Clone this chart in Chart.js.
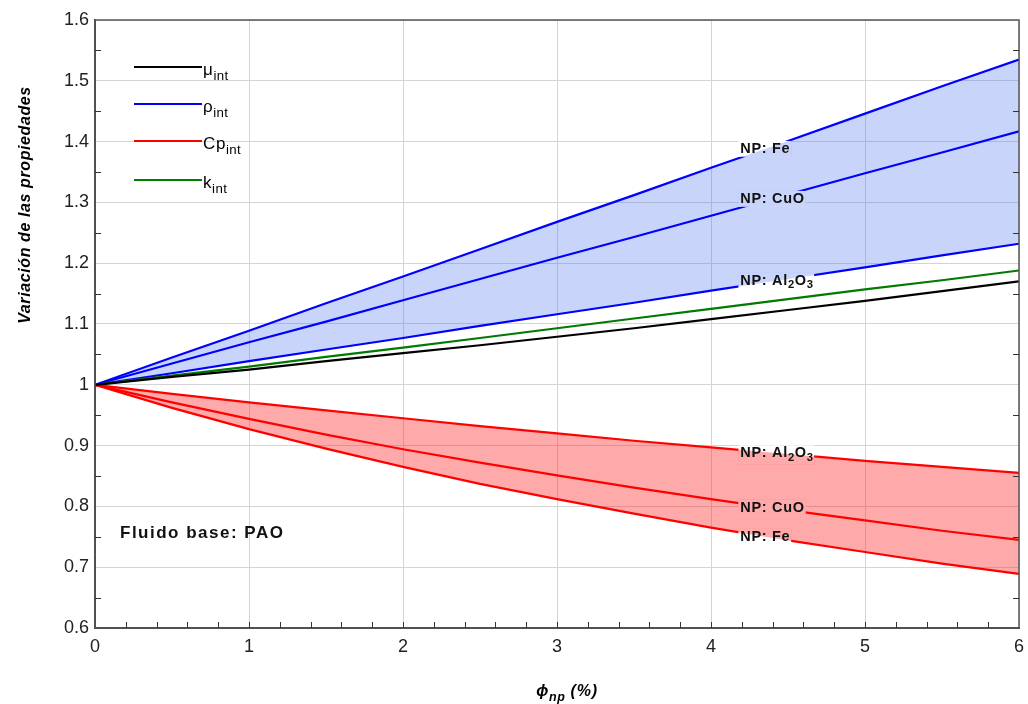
<!DOCTYPE html>
<html>
<head>
<meta charset="utf-8">
<script src="https://cdn.jsdelivr.net/npm/chart.js@4.4.1/dist/chart.umd.min.js"></script>
<style>
  html, body { margin: 0; padding: 0; background: #fff; }
  #wrap { width: 1028px; height: 704px; }
</style>
</head>
<body>
<div id="wrap"><canvas id="props" width="1028" height="704"></canvas></div>
<script>
// Volume fraction of nanoparticles (%)
const phiNp = [0, 0.5, 1, 1.5, 2, 2.5, 3, 3.5, 4, 4.5, 5, 5.5, 6];

// Viscosity and thermal conductivity ratios
const muInt = [1, 1.013, 1.025, 1.039, 1.052, 1.065, 1.079, 1.093, 1.108, 1.123, 1.138, 1.154, 1.170];
const kInt = [1, 1.015, 1.030, 1.046, 1.061, 1.077, 1.093, 1.109, 1.125, 1.141, 1.157, 1.172, 1.188];

// Density ratios per nanoparticle
const rhoAl2O3 = [1, 1.019, 1.039, 1.058, 1.077, 1.097, 1.116, 1.135, 1.155, 1.174, 1.193, 1.213, 1.232];
const rhoCuO = [1, 1.035, 1.070, 1.104, 1.139, 1.174, 1.209, 1.243, 1.278, 1.313, 1.348, 1.382, 1.417];
const rhoFe = [1, 1.045, 1.089, 1.134, 1.178, 1.223, 1.268, 1.312, 1.357, 1.401, 1.446, 1.491, 1.535];

// Specific heat ratios per nanoparticle
const cpAl2O3 = [1, 0.985, 0.971, 0.958, 0.945, 0.932, 0.920, 0.908, 0.897, 0.886, 0.875, 0.865, 0.855];
const cpCuO = [1, 0.971, 0.944, 0.918, 0.894, 0.872, 0.851, 0.831, 0.812, 0.794, 0.777, 0.760, 0.745];
const cpFe = [1, 0.962, 0.927, 0.895, 0.865, 0.837, 0.812, 0.788, 0.765, 0.744, 0.725, 0.706, 0.689];

// Legend entries: [symbol, subscript]
const legendItems = [['μ', 'int'], ['ρ', 'int'], ['Cp', 'int'], ['k', 'int']];
const legendColors = ['#000000', '#0000ff', '#ff0000', '#008000'];

// Nanoparticle names as rich text parts: [text, isSubscript]
const nameFe = [['NP: Fe', 0]];
const nameCuO = [['NP: CuO', 0]];
const nameAl2O3 = [['NP: Al', 0], ['2', 1], ['O', 0], ['3', 1]];

const baseFluid = 'Fluido base: PAO';
const yTitle = 'Variación de las propiedades';

const FONT = '"Liberation Sans", Arial, sans-serif';
const BLUE_FILL = 'rgba(72,112,238,0.3)';
const RED_FILL = 'rgba(255,42,42,0.4)';

function toPoints(arr) {
  return arr.map((v, i) => ({ x: phiNp[i], y: v }));
}

function valueAt(arr, x) {
  for (let i = 1; i < phiNp.length; i++) {
    if (x <= phiNp[i]) {
      const t = (x - phiNp[i - 1]) / (phiNp[i] - phiNp[i - 1]);
      return arr[i - 1] + t * (arr[i] - arr[i - 1]);
    }
  }
  return arr[arr.length - 1];
}

// draws text with subscripts, returns its width
function drawRich(ctx, parts, x, y, size, opts) {
  const weight = opts.weight || '';
  const spacing = opts.spacing || 0;
  let cx = x;
  parts.forEach(([t, sub]) => {
    const s = sub ? size * 0.78 : size;
    ctx.font = `${weight} ${s}px ${FONT}`;
    ctx.letterSpacing = (sub ? spacing * 0.6 : spacing) + 'px';
    if (!opts.measure) ctx.fillText(t, cx, sub ? y + size * 0.32 : y);
    cx += ctx.measureText(t).width;
  });
  ctx.letterSpacing = '0px';
  return cx - x;
}

const datasets = [
  { label: 'mu', data: toPoints(muInt), borderColor: '#000000' },
  { label: 'k', data: toPoints(kInt), borderColor: '#007a00' },
  { label: 'rho Al2O3', data: toPoints(rhoAl2O3), borderColor: '#0000ff' },
  { label: 'rho CuO', data: toPoints(rhoCuO), borderColor: '#0000ff' },
  { label: 'rho Fe', data: toPoints(rhoFe), borderColor: '#0000ff', fill: 2, backgroundColor: BLUE_FILL },
  { label: 'Cp Al2O3', data: toPoints(cpAl2O3), borderColor: '#ff0000', fill: 7, backgroundColor: RED_FILL },
  { label: 'Cp CuO', data: toPoints(cpCuO), borderColor: '#ff0000' },
  { label: 'Cp Fe', data: toPoints(cpFe), borderColor: '#ff0000' }
];
datasets.forEach(d => {
  d.borderWidth = 2.2;
  d.pointRadius = 0;
  d.tension = 0;
  if (d.fill === undefined) d.fill = false;
});

// NP labels sitting on the curves, they cut the line where they are drawn
const npLabels = [
  { parts: nameFe, series: rhoFe, band: [4, 2], color: BLUE_FILL },
  { parts: nameCuO, series: rhoCuO, band: [4, 2], color: BLUE_FILL },
  { parts: nameAl2O3, series: rhoAl2O3, band: [4, 2], color: BLUE_FILL },
  { parts: nameAl2O3, series: cpAl2O3, band: [5, 7], color: RED_FILL },
  { parts: nameCuO, series: cpCuO, band: [5, 7], color: RED_FILL },
  { parts: nameFe, series: cpFe, band: [5, 7], color: RED_FILL }
];

const decorations = {
  id: 'decorations',
  afterDatasetsDraw(chart) {
    const ctx = chart.ctx;
    const xs = chart.scales.x, ys = chart.scales.y;
    const left = xs.getPixelForValue(4.19);
    npLabels.forEach(lb => {
      const w = drawRich(ctx, lb.parts, 0, 0, 14.5, { weight: 'bold', spacing: 0.7, measure: true });
      const cx = left + w / 2;
      const cy = ys.getPixelForValue(valueAt(lb.series, xs.getValueForPixel(cx)));
      const hasSub = lb.parts.length > 1;
      ctx.save();
      ctx.beginPath();
      ctx.rect(left - 2, cy - 8, w + 3, hasSub ? 19 : 16);
      ctx.clip();
      ctx.fillStyle = '#ffffff';
      ctx.fillRect(left - 2, cy - 8, w + 3, 19);
      // band between the two outer curves
      const top = chart.getDatasetMeta(lb.band[0]).data;
      const bot = chart.getDatasetMeta(lb.band[1]).data;
      ctx.beginPath();
      top.forEach((p, i) => i ? ctx.lineTo(p.x, p.y) : ctx.moveTo(p.x, p.y));
      for (let i = bot.length - 1; i >= 0; i--) ctx.lineTo(bot[i].x, bot[i].y);
      ctx.closePath();
      ctx.fillStyle = lb.color;
      ctx.fill();
      ctx.restore();
      ctx.fillStyle = '#111';
      ctx.textBaseline = 'middle';
      ctx.textAlign = 'left';
      drawRich(ctx, lb.parts, left, cy, 14.5, { weight: 'bold', spacing: 0.7 });
    });
  },
  afterDraw(chart) {
    const ctx = chart.ctx;
    const a = chart.chartArea;
    const xs = chart.scales.x, ys = chart.scales.y;
    ctx.save();

    // frame
    ctx.strokeStyle = '#555';
    ctx.lineWidth = 1.5;
    ctx.strokeRect(a.left, a.top, a.right - a.left, a.bottom - a.top);

    // minor ticks, pointing inward
    ctx.strokeStyle = '#333';
    ctx.lineWidth = 1;
    ctx.beginPath();
    for (let v = 0.2; v < 6; v += 0.2) {
      const px = Math.round(xs.getPixelForValue(v)) + 0.5;
      ctx.moveTo(px, a.bottom);
      ctx.lineTo(px, a.bottom - 6);
    }
    for (let v = 0.65; v < 1.6; v += 0.1) {
      const py = Math.round(ys.getPixelForValue(v)) + 0.5;
      ctx.moveTo(a.left, py);
      ctx.lineTo(a.left + 6, py);
      ctx.moveTo(a.right, py);
      ctx.lineTo(a.right - 6, py);
    }
    ctx.stroke();

    // legend
    ctx.textBaseline = 'alphabetic';
    ctx.textAlign = 'left';
    const legendY = [67, 104, 141, 180];
    legendItems.forEach((it, i) => {
      ctx.strokeStyle = legendColors[i];
      ctx.lineWidth = 2.2;
      ctx.beginPath();
      ctx.moveTo(134, legendY[i]);
      ctx.lineTo(202, legendY[i]);
      ctx.stroke();
      ctx.fillStyle = '#000';
      drawRich(ctx, [[it[0], 0], [it[1], 1]], 203, legendY[i] + 8, 17, { spacing: 0.6 });
    });

    // base fluid note
    ctx.fillStyle = '#111';
    ctx.font = `bold 17px ${FONT}`;
    ctx.letterSpacing = '1.5px';
    ctx.textBaseline = 'middle';
    ctx.fillText(baseFluid, 120, 533);
    ctx.letterSpacing = '0px';

    // axis titles
    ctx.fillStyle = '#000';
    ctx.textBaseline = 'alphabetic';
    const xw = drawRich(ctx, [['ϕ', 0], ['np', 1], [' (%)', 0]], 0, 0, 16, { weight: 'italic bold', spacing: 0.8, measure: true });
    drawRich(ctx, [['ϕ', 0], ['np', 1], [' (%)', 0]], 567 - xw / 2, 696, 16, { weight: 'italic bold', spacing: 0.8 });

    ctx.translate(26, 205);
    ctx.rotate(-Math.PI / 2);
    ctx.font = `italic bold 16px ${FONT}`;
    ctx.letterSpacing = '0.6px';
    ctx.textAlign = 'center';
    ctx.textBaseline = 'middle';
    ctx.fillText(yTitle, 0, 0);
    ctx.restore();
  }
};

new Chart(document.getElementById('props'), {
  type: 'line',
  data: { datasets },
  options: {
    responsive: false,
    animation: false,
    layout: { padding: { left: 0, right: 9, top: 20, bottom: 0 } },
    scales: {
      x: {
        type: 'linear',
        min: 0,
        max: 6,
        ticks: { stepSize: 1, color: '#222', padding: 2, font: { family: FONT, size: 18, lineHeight: 1.9 } },
        grid: { color: '#d4d4d4', drawTicks: false },
        border: { color: '#444', width: 2 },
        afterFit: s => { s.height = 76; }
      },
      y: {
        min: 0.6,
        max: 1.6,
        ticks: {
          stepSize: 0.1,
          color: '#222',
          padding: 6,
          font: { family: FONT, size: 18 },
          callback: v => String(Number(v.toFixed(2)))
        },
        grid: { color: '#d4d4d4', drawTicks: false },
        border: { color: '#444', width: 2 },
        afterFit: s => { s.width = 95; }
      }
    },
    plugins: {
      legend: { display: false },
      tooltip: { enabled: false },
      filler: { drawTime: 'beforeDatasetsDraw' }
    }
  },
  plugins: [decorations]
});
</script>
</body>
</html>
